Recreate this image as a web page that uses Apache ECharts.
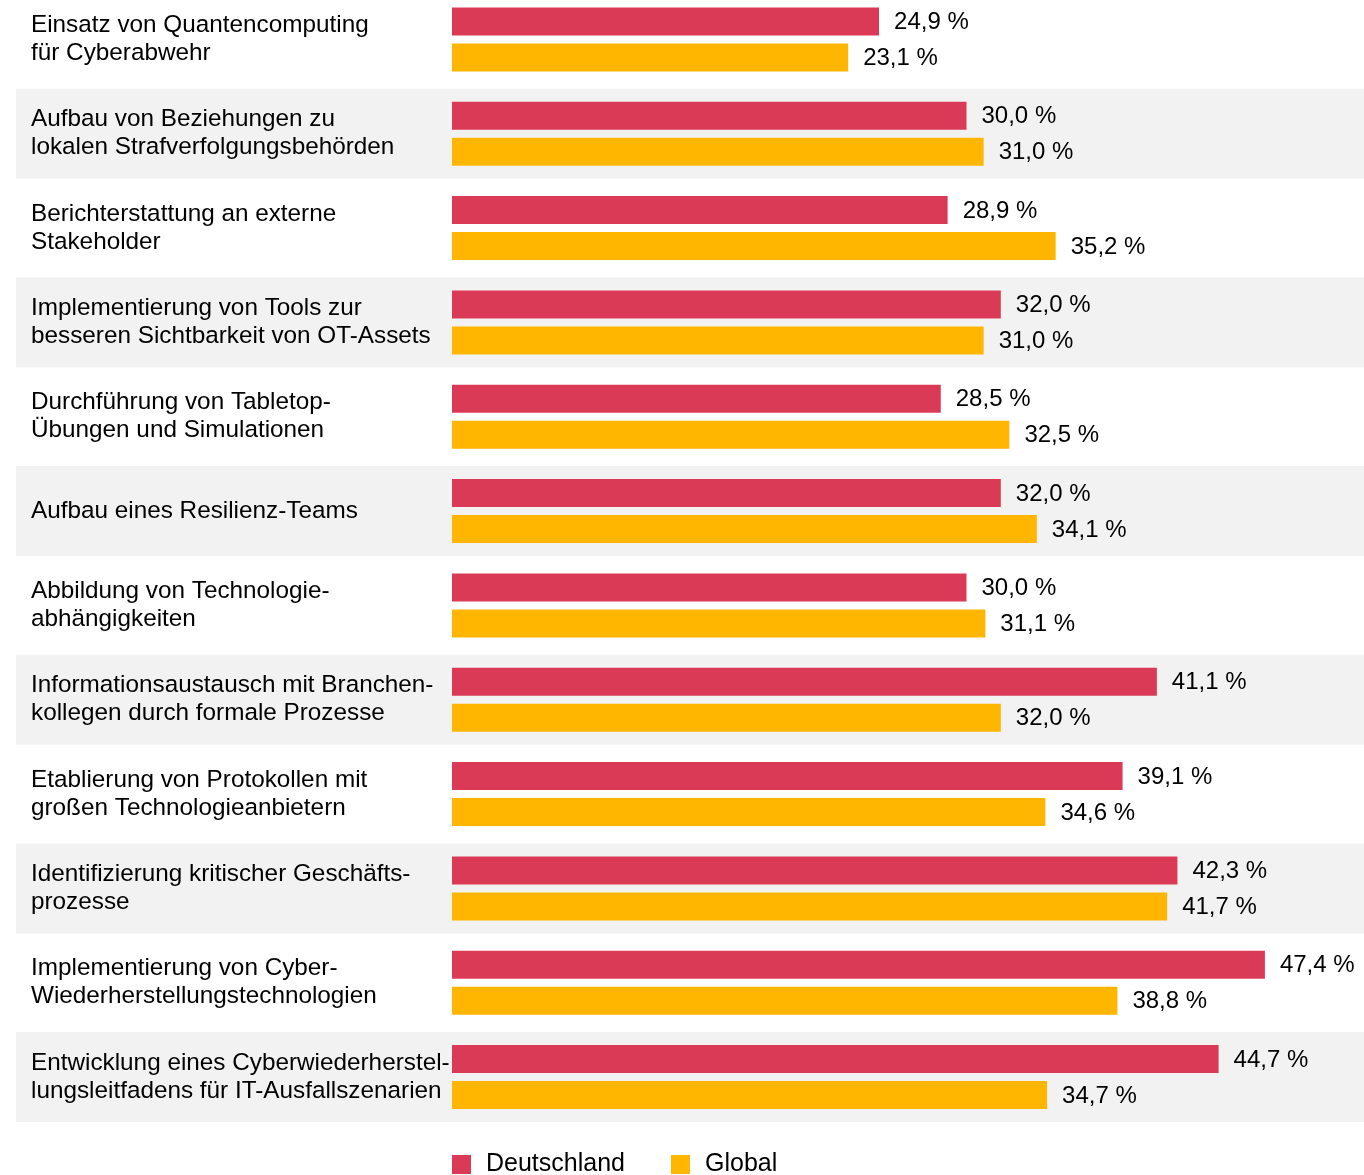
<!DOCTYPE html>
<html>
<head>
<meta charset="utf-8">
<script src="https://cdn.jsdelivr.net/npm/echarts@6/dist/echarts.min.js"></script>
<style>
  html, body { margin: 0; padding: 0; background: #fff; overflow: hidden; }
  /* shifted up a little so the first row can be cropped like in the original */
  #chart { width: 1364px; height: 1183px; margin-top: -8px; }
</style>
</head>
<body>
<div id="chart"></div>
<script>
const categories = [
  'Einsatz von Quantencomputing\nfür Cyberabwehr',
  'Aufbau von Beziehungen zu\nlokalen Strafverfolgungsbehörden',
  'Berichterstattung an externe\nStakeholder',
  'Implementierung von Tools zur\nbesseren Sichtbarkeit von OT-Assets',
  'Durchführung von Tabletop-\nÜbungen und Simulationen',
  'Aufbau eines Resilienz-Teams',
  'Abbildung von Technologie-\nabhängigkeiten',
  'Informationsaustausch mit Branchen-\nkollegen durch formale Prozesse',
  'Etablierung von Protokollen mit\ngroßen Technologieanbietern',
  'Identifizierung kritischer Geschäfts-\nprozesse',
  'Implementierung von Cyber-\nWiederherstellungstechnologien',
  'Entwicklung eines Cyberwiederherstel-\nlungsleitfadens für IT-Ausfallszenarien'
]
const deutschland = [24.9, 30.0, 28.9, 32.0, 28.5, 32.0, 30.0, 41.1, 39.1, 42.3, 47.4, 44.7]
const global = [23.1, 31.0, 35.2, 31.0, 32.5, 34.1, 31.1, 32.0, 34.6, 41.7, 38.8, 34.7]
// alternating row shading (1 = grey band)
const bandShade = [0, 1, 0, 1, 0, 1, 0, 1, 0, 1, 0, 1]

const font = '"Liberation Sans", Arial, Helvetica, sans-serif'
const fmt = p => p.value.toFixed(1).replace('.', ',') + ' %'

var chartDom = document.getElementById('chart')
var myChart = echarts.init(chartDom, null, {renderer: 'canvas'})

const gridTop = 0.3
const gridBottom = 50.8

var option = {
  backgroundColor: '#fff',
  animation: false,
  textStyle: {fontFamily: font},
  legend: {
    data: ['Deutschland', 'Global'],
    left: 452,
    top: 1160,
    padding: 0,
    icon: 'rect',
    itemWidth: 19,
    itemHeight: 19,
    itemGap: 46,
    textStyle: {fontSize: 25, color: '#000', fontFamily: font, padding: [0, 0, 0, 10]}
  },
  grid: [
    {left: 452, right: 54.5, top: gridTop, bottom: gridBottom},
    {left: 16, right: 0, top: gridTop, bottom: gridBottom}
  ],
  xAxis: [
    {type: 'value', gridIndex: 0, min: 0, max: 50, show: false},
    {type: 'value', gridIndex: 1, min: 0, max: 1, show: false}
  ],
  yAxis: [
    {
      type: 'category', gridIndex: 0, data: categories, inverse: true,
      axisLine: {show: false}, axisTick: {show: false}, splitLine: {show: false},
      axisLabel: {
        align: 'left', margin: 421, fontSize: 24.3, lineHeight: 28,
        padding: [4, 0, 0, 0],
        color: '#000', fontFamily: font
      }
    },
    {type: 'category', gridIndex: 1, data: categories, inverse: true, show: false}
  ],
  series: [
    {
      name: 'band', type: 'bar', xAxisIndex: 1, yAxisIndex: 1,
      data: bandShade, barWidth: 90, silent: true, z: 0,
      itemStyle: {color: '#f2f2f2'}
    },
    {
      name: 'Deutschland', type: 'bar', data: deutschland,
      barWidth: 28, barGap: '28.6%', z: 2,
      itemStyle: {color: '#db3a56'},
      label: {show: true, position: 'right', distance: 15, offset: [0, 1], formatter: fmt,
        fontSize: 24, color: '#000', fontFamily: font}
    },
    {
      name: 'Global', type: 'bar', data: global,
      barWidth: 28, barGap: '28.6%', z: 2,
      itemStyle: {color: '#ffb600'},
      label: {show: true, position: 'right', distance: 15, offset: [0, 1], formatter: fmt,
        fontSize: 24, color: '#000', fontFamily: font}
    }
  ]
}
option && myChart.setOption(option)
</script>
</body>
</html>
